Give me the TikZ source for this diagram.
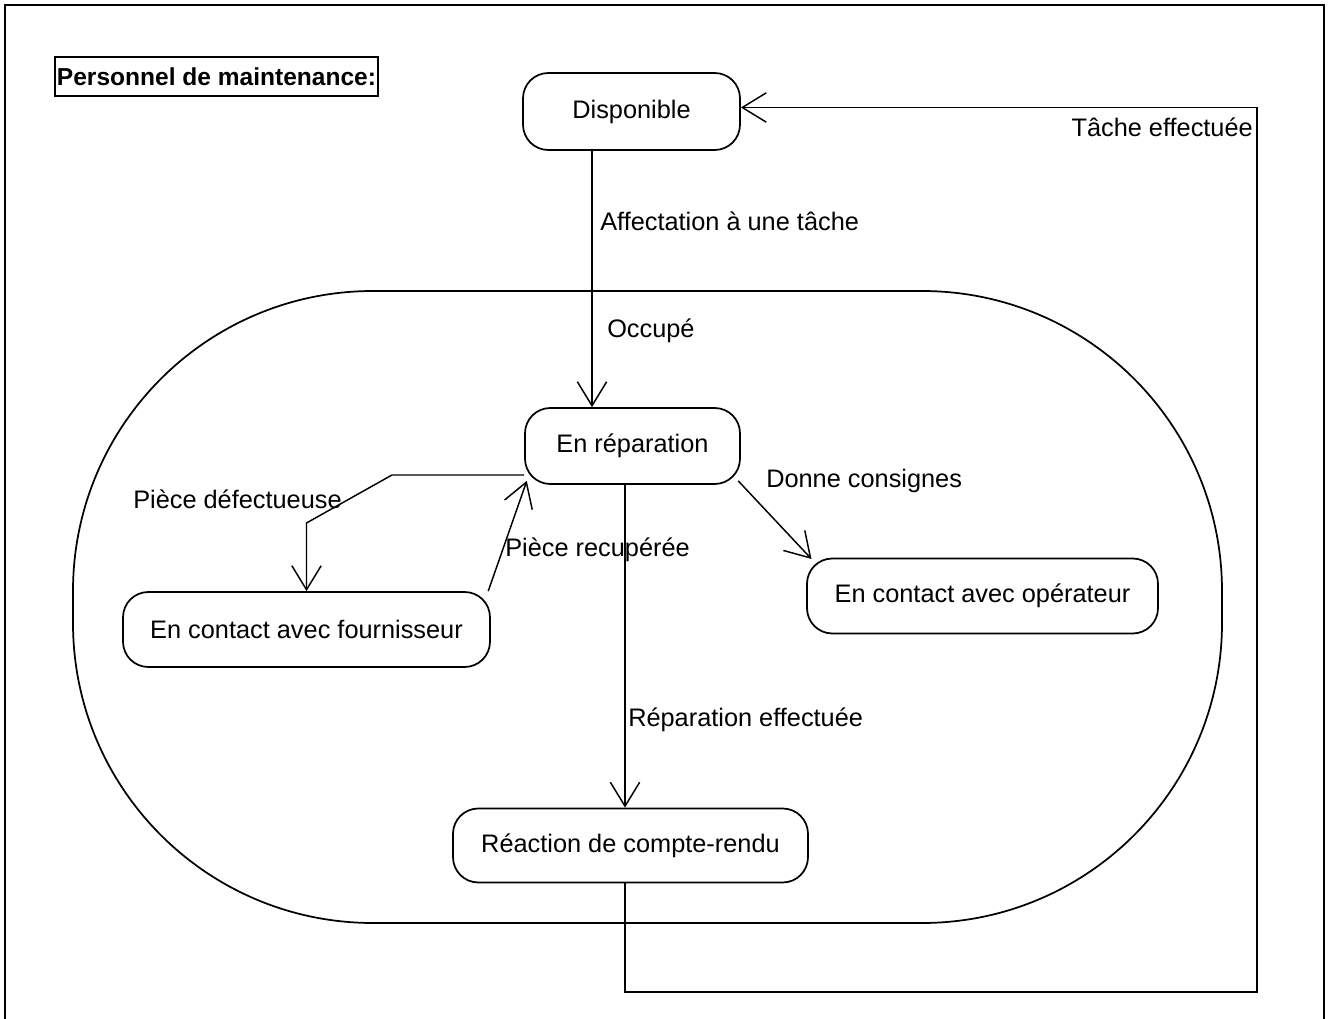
\documentclass[tikz,border=0pt]{standalone}
\usepackage{fontspec}
\setmainfont{Liberation Sans}
\usetikzlibrary{arrows.meta}
\newcommand{\lblfont}{\fontsize{19}{23}\selectfont}
\newcommand{\titlefont}{\fontsize{18.4}{22}\selectfont\bfseries}
\begin{document}
\begin{tikzpicture}[x=0.75pt,y=-0.75pt,
  statebox/.style={draw, line width=1.3pt, rounded corners=19pt, inner sep=0pt, font=\lblfont},
  lbl/.style={inner sep=0pt, anchor=base west, font=\lblfont},
  trans/.style={line width=1.1pt, -{Straight Barb[length=18pt,width=22pt,line width=1.1pt]}}]
  % page extent and outer frame (open at the bottom)
  \useasboundingbox (0,0) rectangle (1329,1019);
  \draw[line width=2pt] (5,1019) -- (5,5) -- (1324,5) -- (1324,1019);

  % title
  \node[draw, line width=1.3pt, inner sep=0pt, minimum width=242pt, minimum height=29pt,
        font=\titlefont] (title) at (216.5,76.5) {Personnel de maintenance:};

  % composite state "Occupé"
  \node[draw, line width=1.3pt, rounded corners=225pt, minimum width=861.75pt,
        minimum height=474pt] (busy) at (647.5,607) {};

  % states
  \node[statebox, minimum width=162.75pt, minimum height=57.75pt] (disp) at (631.5,111.5) {Disponible};
  \node[statebox, minimum width=161.25pt, minimum height=57pt] (rep) at (632.5,446) {En réparation};
  \node[statebox, minimum width=275.25pt, minimum height=56.25pt] (fourn) at (306.5,629.5) {En contact avec fournisseur};
  \node[statebox, minimum width=263.25pt, minimum height=56.25pt] (oper) at (982.5,596) {En contact avec opérateur};
  \node[statebox, minimum width=266.25pt, minimum height=55.5pt] (reac) at (630.5,845.5) {Réaction de compte-rendu};

  % helper coordinates for the routed connectors
  \coordinate (cx592) at (592,0);
  \coordinate (cx625) at (625,0);
  \coordinate (rb) at (1257,992);
  \coordinate (pd1) at (392,475);
  \coordinate (pd2) at (306.5,523);

  % transitions
  \draw[trans] (disp.south -| cx592) -- (rep.north -| cx592);
  \draw[trans] (rep.south -| cx625) -- (reac.north -| cx625);
  \draw[trans] (reac.south -| cx625) |- (rb) |- ([yshift=3pt]disp.east);
  \draw[trans] (rep.west |- pd1) -- (pd1) -- (pd2) -- (fourn.north);
  \draw[trans] ([xshift=-2pt]fourn.north east) -- ([xshift=2pt,yshift=3pt]rep.south west);
  \draw[trans] ([xshift=-2pt,yshift=3pt]rep.south east) -- ([xshift=4pt,yshift=-1pt]oper.north west);

  % transition labels
  \node[lbl] (l1) at (600,231) {Affectation à une tâche};
  \node[lbl] (l2) at (607,338) {Occupé};
  \node[lbl] (l3) at (133,509) {Pièce défectueuse};
  \node[lbl] (l4) at (505,557) {Pièce recupérée};
  \node[lbl] (l5) at (766,488) {Donne consignes};
  \node[lbl] (l6) at (628,726) {Réparation effectuée};
  \node[lbl, anchor=base east] (l7) at (1253,137) {Tâche effectuée};
\end{tikzpicture}
\end{document}
